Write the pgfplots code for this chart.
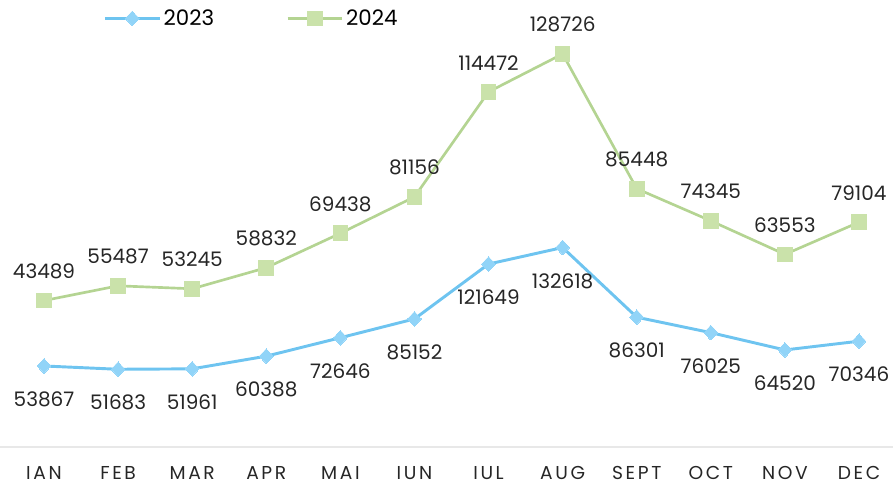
\documentclass[border=0pt]{standalone}
\usepackage{fontspec}
\setmainfont{Poppins}
\usepackage{pgfplots}
\usepackage{pgfplotstable}
\pgfplotsset{compat=1.18}
\definecolor{bline}{RGB}{110,196,240}
\definecolor{bfill}{RGB}{145,212,248}
\definecolor{gline}{RGB}{180,212,146}
\definecolor{gfill}{RGB}{202,226,170}
\definecolor{gridc}{RGB}{232,232,232}
\pgfplotstableread{
x a b
0 53867 43489
1 51683 55487
2 51961 53245
3 60388 58832
4 72646 69438
5 85152 81156
6 121649 114472
7 132618 128726
8 86301 85448
9 76025 74345
10 64520 63553
11 70346 79104
}\data
\begin{document}
\begin{tikzpicture}
\begin{axis}[name=ax,
  scale only axis, width=669.75pt, height=364.5pt,
  xmin=-0.594, xmax=11.459, ymin=-25931, ymax=297207,
  stack plots=y, clip=false,
  axis line style={draw=none}, tick style={draw=none},
  ytick={0}, yticklabel=\empty, scaled y ticks=false, ymajorgrids, grid style={gridc, line width=1pt},
  xtick={0,...,11},
  xticklabels={IAN,FEB,MAR,APR,MAI,IUN,IUL,AUG,SEPT,OCT,NOV,DEC},
  xticklabel style={anchor=center, yshift=9.75pt, font=\fontsize{14}{16}\selectfont\addfontfeature{LetterSpace=14}, text=black!85},
  legend columns=2,
  legend style={at={(0.282,1)}, yshift=-3pt, anchor=north, draw=none, fill=none, font=\fontsize{16}{19}\selectfont,
    /tikz/every even column/.append style={column sep=52pt}},
  legend image code/.code={\draw[mark repeat=2,mark phase=2,#1] plot coordinates {(0cm,0cm) (0.72cm,0cm) (1.44cm,0cm)};},
  point meta=explicit symbolic,
  nodes near coords,
  every node near coord/.append style={font=\fontsize{15}{18}\selectfont, text=black!85},
]
\addplot[bline, line width=2.2pt, mark=diamond*, mark size=5.5pt, mark options={fill=bfill, draw=bfill, line width=0pt, xscale=1.25},
  every node near coord/.append style={anchor=north, yshift=-16pt}]
  table[x=x, y=a, meta=a] {\data};
\addlegendentry{2023}
\addplot[gline, line width=2pt, mark=square*, mark size=5.5pt, mark options={fill=gfill, draw=gfill, line width=0pt},
  every node near coord/.append style={anchor=south, yshift=13pt}]
  table[x=x, y=b, meta=b] {\data};
\addlegendentry{2024}
\end{axis}
\pgfresetboundingbox
\path[use as bounding box] (ax.south west) rectangle (ax.north east);
\end{tikzpicture}
\end{document}
